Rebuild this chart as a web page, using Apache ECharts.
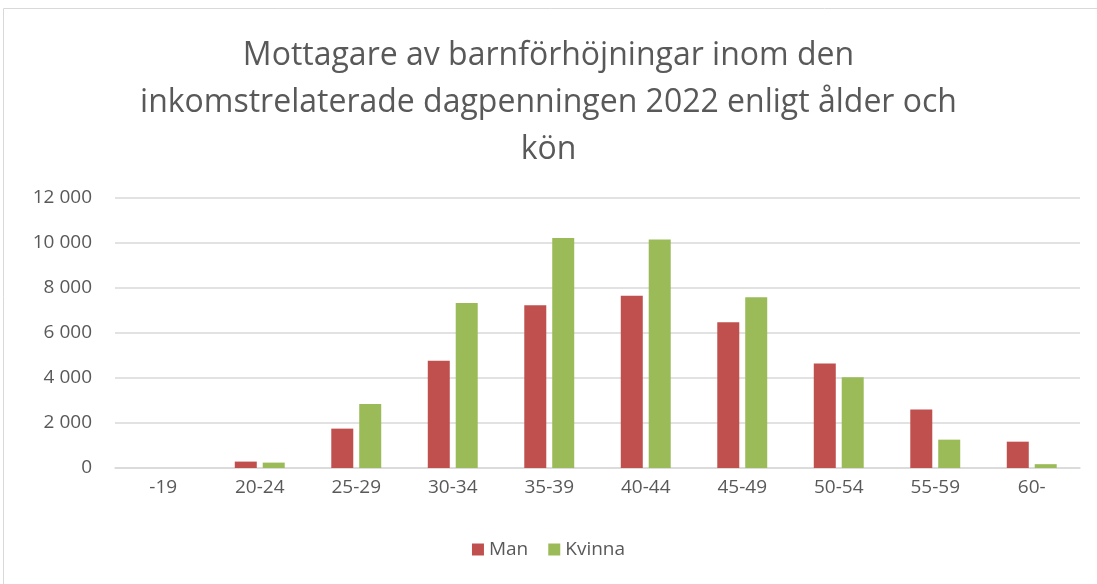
<!DOCTYPE html>
<html>
<head>
<meta charset="utf-8">
<script src="https://cdn.jsdelivr.net/npm/echarts@6/dist/echarts.min.js"></script>
<style>
  html, body { margin: 0; padding: 0; background: #fff; }
  #chart { width: 1097px; height: 584px; }
</style>
</head>
<body>
<div id="chart"></div>
<script>
// ålderskategorier
const categories = ['-19', '20-24', '25-29', '30-34', '35-39', '40-44', '45-49', '50-54', '55-59', '60-'];
const manValues = [0, 285, 1750, 4770, 7230, 7660, 6475, 4640, 2600, 1170];
const kvinnaValues = [0, 240, 2840, 7330, 10220, 10160, 7590, 4030, 1260, 170];
const yTicks = [0, 2000, 4000, 6000, 8000, 10000, 12000];

const textColor = '#595959';
const fontFamily = 'Open Sans, Noto Sans, sans-serif';

let myChart = echarts.init(document.getElementById('chart'));

let option = {
    animation: false,
    textStyle: { fontFamily: fontFamily },
    title: {
        text: 'Mottagare av barnförhöjningar inom den\ninkomstrelaterade dagpenningen 2022 enligt ålder och\nkön',
        left: 'center',
        top: 27,
        textStyle: {
            color: textColor,
            fontSize: 32,
            fontWeight: 'normal',
            lineHeight: 47,
            fontFamily: fontFamily
        }
    },
    legend: {
        bottom: 20,
        left: 'center',
        itemWidth: 12,
        itemHeight: 12,
        itemGap: 20,
        icon: 'rect',
        textStyle: { color: textColor, fontSize: 19 },
        data: ['Man', 'Kvinna']
    },
    grid: {
        left: 115,
        right: 17,
        top: 198,
        bottom: 116
    },
    xAxis: {
        type: 'category',
        data: categories,
        axisTick: { show: false },
        axisLine: { lineStyle: { color: '#d9d9d9', width: 1.5 } },
        axisLabel: { color: textColor, fontSize: 19, margin: 10 }
    },
    yAxis: {
        type: 'value',
        min: yTicks[0],
        max: yTicks[yTicks.length - 1],
        interval: 2000,
        axisLine: { show: false },
        axisTick: { show: false },
        splitLine: { lineStyle: { color: '#d9d9d9', width: 1.5 } },
        axisLabel: {
            color: textColor,
            fontSize: 19,
            margin: 23,
            formatter: v => String(v).replace(/\B(?=(\d{3})+(?!\d))/g, ' ')
        }
    },
    series: [
        {
            name: 'Man',
            type: 'bar',
            barWidth: 22,
            barGap: '27%',
            itemStyle: { color: '#C0504D' },
            data: manValues
        },
        {
            name: 'Kvinna',
            type: 'bar',
            barWidth: 22,
            itemStyle: { color: '#9BBB59' },
            data: kvinnaValues
        }
    ],
    graphic: [
        {
            type: 'rect',
            shape: { x: 3.5, y: 8.5, width: 1100, height: 600 },
            style: { fill: 'none', stroke: '#d9d9d9', lineWidth: 1 },
            silent: true,
            z: -1
        }
    ]
};
myChart.setOption(option);
</script>
</body>
</html>
